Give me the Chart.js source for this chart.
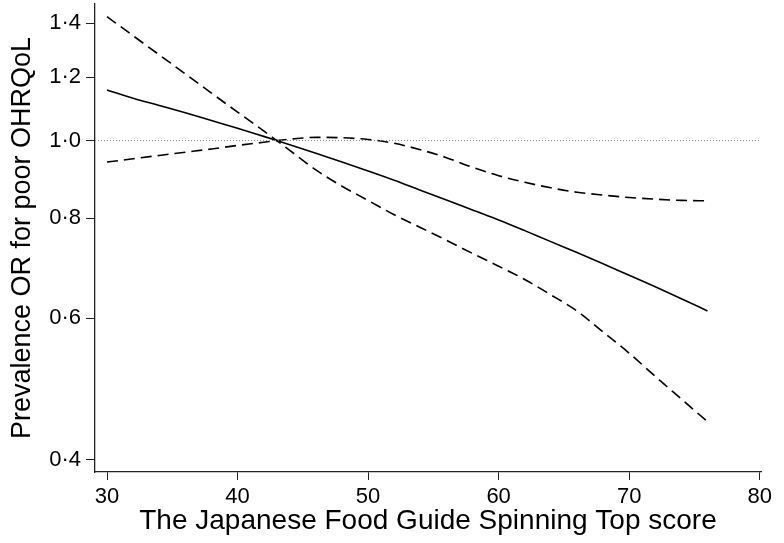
<!DOCTYPE html>
<html>
<head>
<meta charset="utf-8">
<script src="https://cdn.jsdelivr.net/npm/chart.js@4"></script>
<style>
  html,body{margin:0;padding:0;background:#fff}
  #wrap{width:784px;height:543px}
</style>
</head>
<body>
<div id="wrap"><canvas id="c" width="784" height="543"></canvas></div>
<script>
// score values (x)
const scores = [30,32,34,36,38,40,42,43,44,46,48,50,52,54,56,58,60,62,64,66,68,70,72,74,76]
// prevalence OR, restricted spline estimate
const orEst = [1.156,1.129,1.106,1.083,1.059,1.036,1.012,1.0,0.988,0.964,0.940,0.916,0.892,0.867,0.843,0.819,0.796,0.772,0.748,0.725,0.702,0.679,0.657,0.635,0.613]
// confidence limits
const ciSteep = [1.427,1.351,1.279,1.211,1.146,1.085,1.028,1.0,0.972,0.919,0.877,0.842,0.808,0.779,0.751,0.723,0.697,0.671,0.642,0.613,0.577,0.543,0.508,0.476,0.446]
const ciFlat = [0.940,0.949,0.958,0.967,0.976,0.986,0.995,1.0,1.004,1.009,1.008,1.003,0.992,0.974,0.952,0.926,0.904,0.887,0.873,0.862,0.855,0.849,0.845,0.842,0.841]
// reference line OR = 1
const refX = [29.08,80.1]
const refY = [1,1]

const xTicks = [30,40,50,60,70,80]
const yTicks = [0.4,0.6,0.8,1.0,1.2,1.4]

const pts = (xs,ys)=> xs.map((x,i)=>({x:x,y:ys[i]}))
const fam = "'Liberation Sans', Arial, Helvetica, sans-serif"

new Chart(document.getElementById("c"),{
  type:"line",
  data:{
    datasets:[
      { data:pts(refX,refY), borderColor:"#8a8a8a", borderWidth:1, borderDash:[1,2], pointRadius:0 },
      { data:pts(scores,ciSteep), borderColor:"#000", borderWidth:1.6, borderDash:[11,6], pointRadius:0, cubicInterpolationMode:"monotone" },
      { data:pts(scores,ciFlat), borderColor:"#000", borderWidth:1.6, borderDash:[11,6], pointRadius:0, cubicInterpolationMode:"monotone" },
      { data:pts(scores,orEst), borderColor:"#000", borderWidth:1.6, pointRadius:0, cubicInterpolationMode:"monotone" }
    ]
  },
  options:{
    responsive:false,
    animation:false,
    layout:{ padding:{ top:4, right:23, left:0, bottom:0 } },
    plugins:{ legend:{display:false}, tooltip:{enabled:false} },
    scales:{
      x:{
        type:"linear", min:29.08, max:80.1,
        afterBuildTicks: s=>{ s.ticks = xTicks.map(v=>({value:v})) },
        afterFit: s=>{ s.height = 71; s.paddingLeft = 0; s.paddingRight = 0 },
        grid:{ drawOnChartArea:false, drawTicks:true, tickLength:8, color:"#222" },
        border:{ display:true, color:"#222", width:1.3 },
        ticks:{ color:"#000", padding:4, maxRotation:0, autoSkip:false, font:{family:fam, size:22}, callback:v=>String(v) },
        title:{ display:true, text:"The Japanese Food Guide Spinning Top score", color:"#000", font:{family:fam, size:28}, padding:{top:0,bottom:5} }
      },
      y:{
        type:"logarithmic", min:0.386, max:1.48,
        afterBuildTicks: s=>{ s.ticks = yTicks.map(v=>({value:v})) },
        afterFit: s=>{ s.width = 95; s.paddingTop = 0; s.paddingBottom = 0 },
        grid:{ drawOnChartArea:false, drawTicks:true, tickLength:9, color:"#222" },
        border:{ display:true, color:"#222", width:1.3 },
        ticks:{ color:"#000", padding:5, autoSkip:false, font:{family:fam, size:22}, callback:v=>Number(v).toFixed(1).replace(".","\u00b7") },
        title:{ display:true, text:"Prevalence OR for poor OHRQoL", color:"#000", font:{family:fam, size:27}, padding:{top:6,bottom:0} }
      }
    }
  }
})
</script>
</body>
</html>
